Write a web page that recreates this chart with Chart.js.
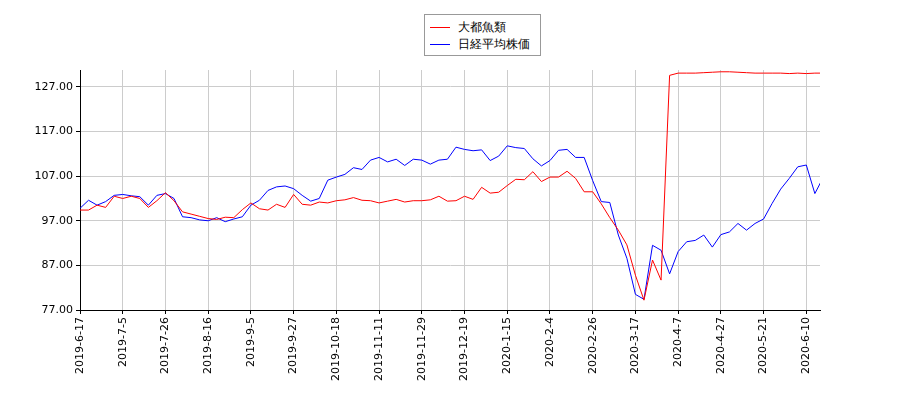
<!DOCTYPE html>
<html>
<head>
<meta charset="utf-8">
<script src="https://cdn.jsdelivr.net/npm/chart.js@4"></script>
<style>
  body { margin: 0; background: #fff; }
  #wrap { position: relative; width: 900px; height: 400px; }
  #legend { position: absolute; left: 424px; top: 14px; width: 117px; height: 42px;
    border: 1px solid #999; background: #fff; font: 12px "DejaVu Sans", sans-serif; box-sizing: border-box; padding: 4px 5px; }
  #legend div { height: 17px; line-height: 17px; white-space: nowrap; }
  #legend span.l { display: inline-block; width: 20px; height: 0; border-top: 1.5px solid; vertical-align: middle; margin-right: 8px; }
</style>
</head>
<body>
<div id="wrap">
  <canvas id="c" width="900" height="400"></canvas>
  <div id="legend">
    <div><span class="l" style="border-color:#f00"></span>大都魚類</div>
    <div><span class="l" style="border-color:#00f"></span>日経平均株価</div>
  </div>
</div>
<script>
// 目盛りラベル (5 区間ごと)
const tickLabels = ['2019-6-17','2019-7-5','2019-7-26','2019-8-16','2019-9-5','2019-9-27','2019-10-18','2019-11-11','2019-11-29','2019-12-19','2020-1-15','2020-2-4','2020-2-26','2020-3-17','2020-4-7','2020-4-27','2020-5-21','2020-6-10'];
const yTicks = [77, 87, 97, 107, 117, 127];

// 大都魚類 (3営業日ごと)
const daito = [99.4,99.4,100.5,100,102.5,102,102.5,102,100,101.5,103.3,101.5,99,98.5,98,97.5,97.3,97.8,97.7,99.5,
  101,99.7,99.4,100.7,100,102.9,100.7,100.5,101.2,101,101.5,101.7,102.2,101.6,101.5,101,101.4,101.8,101.2,101.5,
  101.5,101.7,102.5,101.4,101.5,102.5,101.8,104.5,103.2,103.4,104.9,106.3,106.2,108,105.8,106.8,106.8,108.1,106.5,103.5,
  103.5,100.8,97.7,94.9,91.6,84.8,79.2,88.2,83.7,129.6,130.1,130.1,130.1,130.2,130.3,130.4,130.4,130.3,130.2,130.1,
  130.1,130.1,130.1,130,130.1,130,130.1,130.1];
// 日経平均株価
const nikkei = [99.8,101.6,100.5,101.3,102.7,102.9,102.6,102.4,100.5,102.7,103.1,102,97.9,97.7,97.2,97,97.7,96.8,97.4,97.9,
  100.5,101.6,103.8,104.6,104.8,104.2,102.7,101.4,102,106.1,106.8,107.4,108.9,108.5,110.6,111.2,110.2,110.8,109.4,110.8,
  110.6,109.7,110.6,110.8,113.5,113,112.7,112.9,110.5,111.5,113.8,113.4,113.2,110.9,109.3,110.5,112.8,113,111.2,111.2,
  106,101.3,101.1,93.8,88.6,80.5,79.4,91.5,90.4,85.1,90.1,92.3,92.6,93.8,91.1,93.9,94.5,96.4,94.9,96.4,
  97.4,100.9,104.1,106.5,109.1,109.5,103.1,106.8];

const toPts = arr => arr.map((v, i) => ({ x: i, y: v }));
const font = { family: 'DejaVu Sans', size: 11 };

new Chart(document.getElementById('c'), {
  type: 'line',
  data: {
    datasets: [
      { label: '大都魚類', data: toPts(daito), borderColor: '#f00', borderWidth: 1, pointRadius: 0, tension: 0 },
      { label: '日経平均株価', data: toPts(nikkei), borderColor: '#00f', borderWidth: 1, pointRadius: 0, tension: 0 }
    ]
  },
  options: {
    responsive: false,
    animation: false,
    layout: { padding: { top: 70, right: 80, left: 0, bottom: 0 } },
    plugins: { legend: { display: false }, tooltip: { enabled: false } },
    scales: {
      x: {
        type: 'linear', min: 0, max: 86.6,
        afterBuildTicks: s => { s.ticks = tickLabels.map((_, i) => ({ value: i * 5 })); },
        afterFit: s => { s.height = 90; },
        ticks: { font, color: '#000', maxRotation: 90, minRotation: 90, autoSkip: false,
          callback: v => tickLabels[Math.round(v / 5)] },
        grid: { color: '#ccc', tickLength: 4, tickColor: '#000' },
        border: { color: '#000' }
      },
      y: {
        min: 77, max: 130.8,
        afterBuildTicks: s => { s.ticks = yTicks.map(v => ({ value: v })); },
        afterFit: s => { s.width = 80; },
        ticks: { font, color: '#000', callback: v => v.toFixed(2) },
        grid: { color: '#ccc', tickLength: 4, tickColor: '#000' },
        border: { color: '#000' }
      }
    }
  }
});
</script>
</body>
</html>
